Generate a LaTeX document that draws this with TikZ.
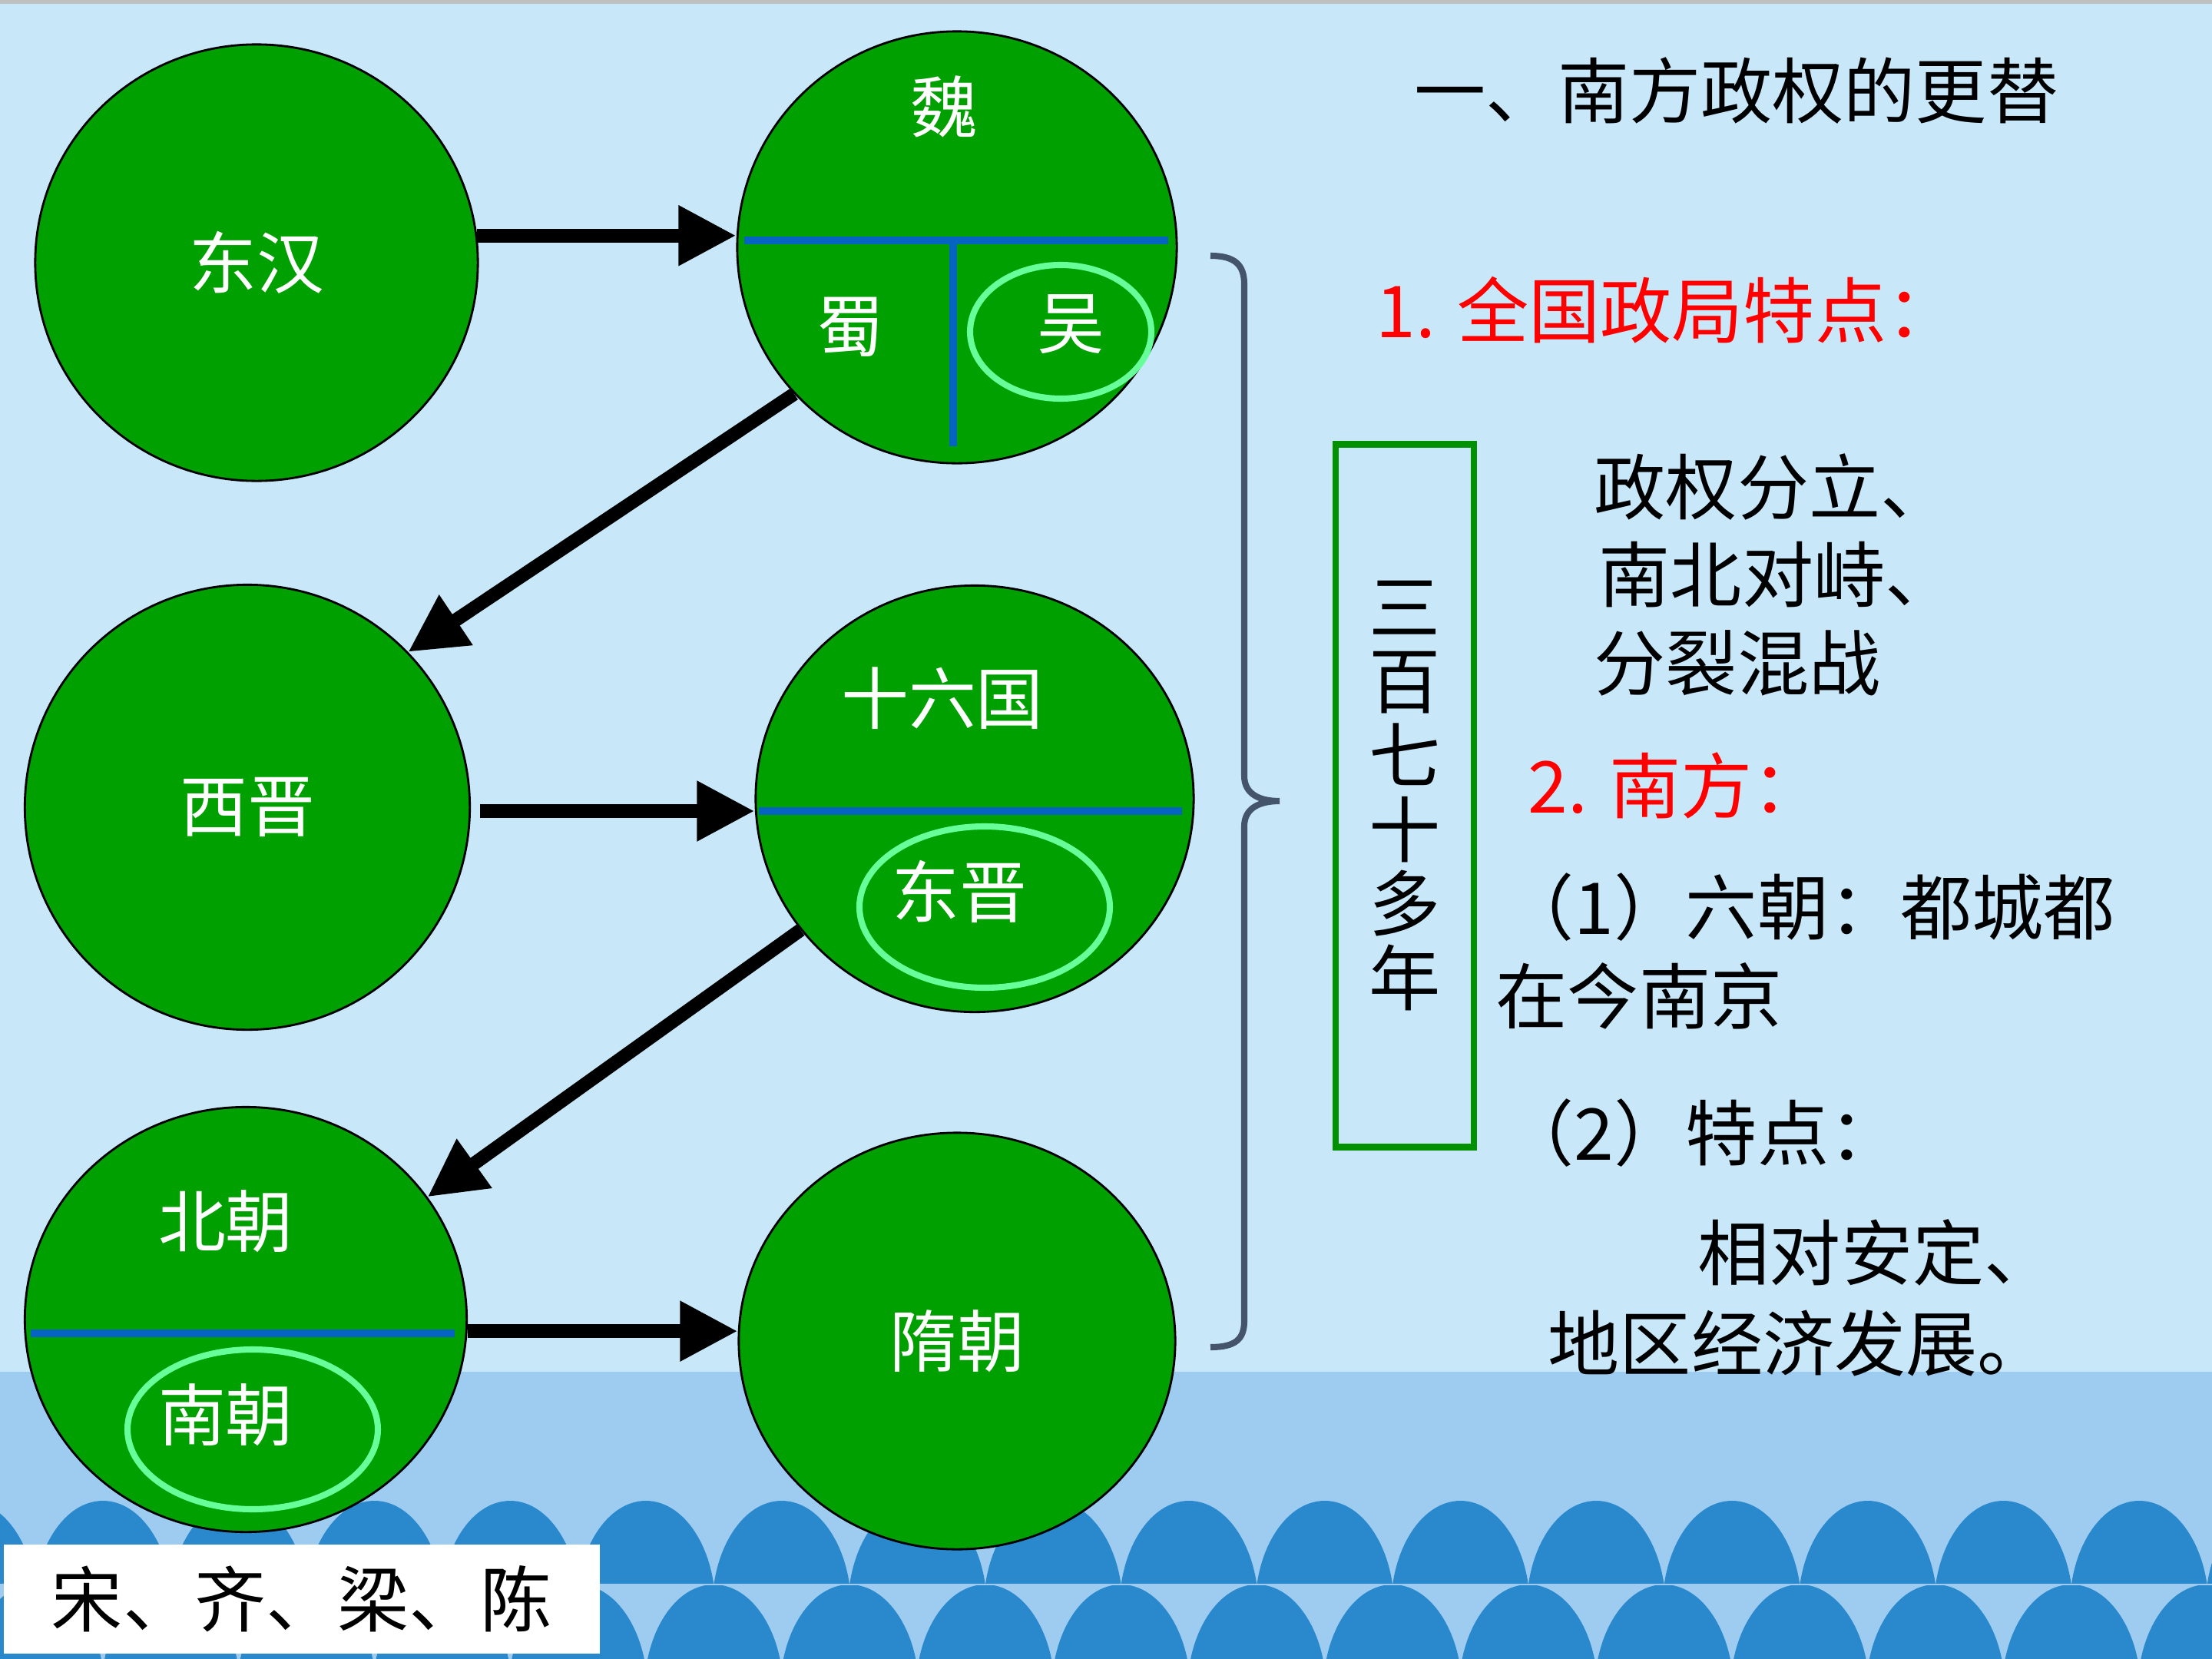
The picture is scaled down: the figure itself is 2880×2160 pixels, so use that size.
\documentclass[tikz,border=0pt]{standalone}
\usepackage{fontspec}
\setmainfont{Noto Sans CJK SC}
\usetikzlibrary{arrows.meta,shapes.geometric}
\definecolor{bgtop}{HTML}{C8E8FA}
\definecolor{bgmid}{HTML}{9ECCF0}
\definecolor{wavec}{HTML}{2A88CC}
\definecolor{circ}{HTML}{00A000}
\definecolor{divc}{HTML}{0563C1}
\definecolor{hlc}{HTML}{66FF99}
\definecolor{boxg}{HTML}{009000}
\definecolor{bracec}{HTML}{44546A}
\definecolor{topline}{HTML}{C0C0C0}
\begin{document}
\begin{tikzpicture}[x=0.01cm,y=-0.01cm,
  ball/.style={ellipse, draw=black, line width=0.8pt, fill=circ, inner sep=0pt, text=white,
    font=\fontsize{25pt}{30pt}\selectfont},
  lbl/.style={inner sep=0pt, text=white, font=\fontsize{25pt}{30pt}\selectfont},
  txt/.style={inner sep=0pt, font=\fontsize{26.5pt}{32pt}\selectfont},
  divider/.style={draw=divc, line width=3.1pt},
  hl/.style={draw=hlc, line width=2.3pt},
  arr/.style={line width=5pt, -{Triangle[length=0.75cm,width=0.74cm]}},
  wave/.style={fill=wavec}]
\useasboundingbox (0,0) rectangle (2880,2160);
% background
\fill[bgtop] (0,0) rectangle (2880,2160);
\fill[bgmid] (0,1786) rectangle (2880,2160);
\fill[topline] (0,0) rectangle (2880,5);
% waves (truncated elliptic arches)
\begin{scope}
  \clip (0,1940) rectangle (2880,2061);
  \foreach \i in {-1,...,16}
    \fill[wave] ({134+176.75*\i},2093) ellipse [x radius=90.4, y radius=139];
\end{scope}
\begin{scope}
  \clip (0,2064) rectangle (2880,2160);
  \foreach \i in {0,...,17}
    \fill[wave] ({45.6+176.75*\i},2202) ellipse [x radius=90.4, y radius=139];
\end{scope}
% circles
\node[ball, minimum width=5.76cm, minimum height=5.68cm] (donghan) at (334,342) {东汉};
\node[ball, minimum width=5.72cm, minimum height=5.62cm] (wei) at (1246,322) {};
\node[ball, minimum width=5.79cm, minimum height=5.79cm] (xijin) at (322,1051) {西晋};
\node[ball, minimum width=5.70cm, minimum height=5.55cm] (shiliu) at (1269,1040) {};
\node[ball, minimum width=5.75cm, minimum height=5.53cm] (beichao) at (320,1718) {};
\node[ball, minimum width=5.68cm, minimum height=5.42cm] (suichao) at (1246,1746) {隋朝};
% dividers
\draw[divider] (969,313) -- (1521,313);
\draw[divider] (1241,313) -- (1241,581);
\draw[divider] (988,1056) -- (1539,1056);
\draw[divider] (40,1736) -- (592,1736);
% highlight rings
\draw[hl] (1381,432) ellipse [x radius=118, y radius=87];
\draw[hl] (1282,1181) ellipse [x radius=163, y radius=105];
\draw[hl] (329,1861) ellipse [x radius=163, y radius=104];
% labels in circles
\node[lbl] (wei-t) at (1229,139) {魏};
\node[lbl] (shu-t) at (1107,426) {蜀};
\node[lbl] (wu-t) at (1394,422) {吴};
\node[lbl] (shiliu-t) at (1227,909) {十六国};
\node[lbl] (dongjin-t) at (1249,1161) {东晋};
\node[lbl] (beichao-t) at (294,1590) {北朝};
\node[lbl] (nanchao-t) at (294,1842) {南朝};
% arrows
\draw[arr] (donghan.7) -- (donghan.7 -| wei.west);
\draw[arr] (wei.222) -- (xijin.44);
\draw[arr] ([xshift=0.12cm,yshift=-0.05cm]xijin.east) -- ([yshift=-0.05cm]xijin.east -| shiliu.west);
\draw[arr] (shiliu.217) -- (beichao.34);
\draw[arr] (beichao.-3) -- (beichao.-3 -| suichao.west);
% brace
\draw[bracec, line width=2.3pt] (1576,333) .. controls (1608,333) and (1620,345) .. (1620,370)
  -- (1620,1010) .. controls (1620,1034) and (1640,1043) .. (1666,1043)
  .. controls (1640,1043) and (1620,1052) .. (1620,1076)
  -- (1620,1720) .. controls (1620,1744) and (1608,1754) .. (1576,1754);
% green box with vertical text
\node[draw=boxg, line width=2.5pt, minimum width=1.8cm, minimum height=9.14cm, inner sep=0pt,
  align=center, font=\fontsize{26.5pt}{27.5pt}\selectfont] (years) at (1829,1036)
  {三\\百\\七\\十\\多\\年};
% right-hand text
\node[txt] (title) at (2261,118) {一、南方政权的更替};
\node[txt, text=red, anchor=west] (p1) at (1791,404) {1. 全国政局特点：};
\node[txt, anchor=west] (l1) at (2075,634) {政权分立、};
\node[txt, anchor=west] (l2) at (2081,748) {南北对峙、};
\node[txt, anchor=west] (l3) at (2075,863) {分裂混战};
\node[txt, text=red, anchor=west] (p2) at (1989,1023) {2. 南方：};
\node[txt, anchor=west] (l4) at (1956,1181) {（1）六朝：都城都};
\node[txt, anchor=west] (l5) at (1947,1297) {在今南京};
\node[txt, anchor=west] (l6) at (1956,1475) {（2）特点：};
\node[txt, anchor=west] (l7) at (2210,1631) {相对安定、};
\node[txt, anchor=west] (l8) at (2015,1749) {地区经济发展。};
% bottom-left box
\node[txt, fill=white, minimum width=7.76cm, minimum height=1.42cm] (dyn) at (393,2082) {宋、齐、梁、陈};
\end{tikzpicture}
\end{document}
